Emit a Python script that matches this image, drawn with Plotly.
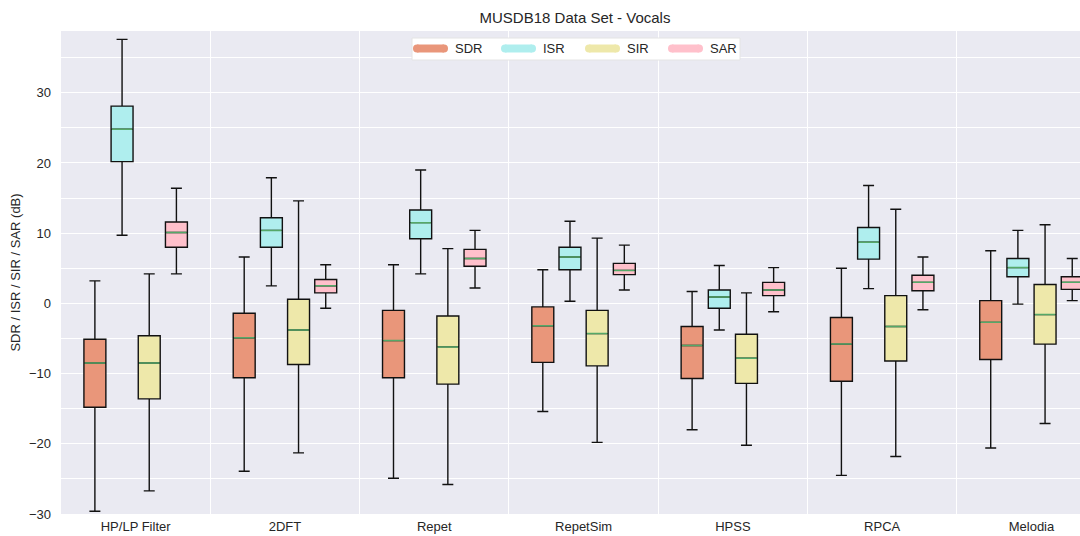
import plotly.graph_objects as go

methods = ["HP/LP Filter", "2DFT", "Repet", "RepetSim", "HPSS", "RPCA", "Melodia"]
metrics = ["SDR", "ISR", "SIR", "SAR"]
colors = {"SDR": "#E9967A", "ISR": "#AFEEEE", "SIR": "#EEE8AA", "SAR": "#FFC0CB"}

# per-metric box statistics, one value per method (dB)
sdr_low = [-29.6, -23.9, -24.9, -15.4, -18.0, -24.5, -20.6]
sdr_q1 = [-14.8, -10.6, -10.6, -8.4, -10.7, -11.1, -8.0]
sdr_med = [-8.5, -4.9, -5.3, -3.2, -6.0, -5.8, -2.7]
sdr_q3 = [-5.1, -1.4, -1.0, -0.5, -3.3, -2.0, 0.4]
sdr_high = [3.2, 6.6, 5.5, 4.8, 1.7, 5.0, 7.5]

isr_low = [9.7, 2.5, 4.2, 0.3, -3.8, 2.1, -0.1]
isr_q1 = [20.2, 8.0, 9.2, 4.8, -0.7, 6.3, 3.8]
isr_med = [24.8, 10.4, 11.5, 6.6, 0.9, 8.7, 5.1]
isr_q3 = [28.1, 12.2, 13.3, 8.0, 1.9, 10.8, 6.4]
isr_high = [37.6, 17.9, 19.0, 11.7, 5.4, 16.8, 10.4]

sir_low = [-26.7, -21.3, -25.8, -19.8, -20.2, -21.8, -17.1]
sir_q1 = [-13.6, -8.7, -11.5, -8.9, -11.4, -8.2, -5.8]
sir_med = [-8.5, -3.8, -6.2, -4.3, -7.8, -3.3, -1.6]
sir_q3 = [-4.6, 0.6, -1.8, -1.0, -4.4, 1.1, 2.7]
sir_high = [4.2, 14.6, 7.8, 9.3, 1.5, 13.4, 11.2]

sar_low = [4.2, -0.7, 2.2, 1.9, -1.2, -0.9, 0.4]
sar_q1 = [8.0, 1.5, 5.3, 4.1, 1.1, 1.8, 2.0]
sar_med = [10.1, 2.5, 6.4, 4.7, 1.9, 3.0, 3.0]
sar_q3 = [11.6, 3.4, 7.7, 5.7, 3.0, 4.0, 3.8]
sar_high = [16.4, 5.5, 10.4, 8.3, 5.1, 6.6, 6.4]

stats = {
    "SDR": (sdr_low, sdr_q1, sdr_med, sdr_q3, sdr_high),
    "ISR": (isr_low, isr_q1, isr_med, isr_q3, isr_high),
    "SIR": (sir_low, sir_q1, sir_med, sir_q3, sir_high),
    "SAR": (sar_low, sar_q1, sar_med, sar_q3, sar_high),
}

FONT = "Liberation Sans, Arial, sans-serif"
TXT = "#262626"
W, H = 1080, 536
ML, MR, MT, MB = 61, 0, 31, 22
PW, PH = W - ML - MR, H - MT - MB
offsets = [-0.273, -0.091, 0.091, 0.273]
box_w = 0.147


def px(x):
    return (x - ML) / PW


def py(y):
    return (H - MB - y) / PH


fig = go.Figure()
for k, m in enumerate(metrics):
    lo, q1, med, q3, hi = stats[m]
    xs = [i + offsets[k] for i in range(len(methods))]
    fig.add_trace(go.Box(
        x=xs, q1=q1, median=med, q3=q3, lowerfence=lo, upperfence=hi,
        orientation="v", width=box_w, whiskerwidth=0.5,
        fillcolor=colors[m], line=dict(color="#111111", width=1.4),
        boxpoints=False, showlegend=False, hoverinfo="skip",
    ))
    # green median line
    fig.add_trace(go.Box(
        x=xs, q1=med, median=med, q3=med, lowerfence=med, upperfence=med,
        orientation="v", width=box_w * 0.93, whiskerwidth=0,
        fillcolor="rgba(0,0,0,0)", line=dict(color="#55A868", width=1.5),
        boxpoints=False, showlegend=False, hoverinfo="skip",
    ))

# manual legend (matplotlib-style): white frame, thick line patches, labels
shapes = [dict(type="rect", xref="paper", yref="paper",
               x0=px(412), x1=px(740), y0=py(60), y1=py(38),
               fillcolor="white", line=dict(color="#E4E4E4", width=1), layer="above")]
annotations = []
legend_x = [414, 502, 586, 669]
for m, lx in zip(metrics, legend_x):
    shapes.append(dict(type="line", xref="paper", yref="paper",
                       x0=px(lx + 3), x1=px(lx + 30), y0=py(48.5), y1=py(48.5),
                       line=dict(color=colors[m], width=8), layer="above"))
    for cx in (lx + 3, lx + 30):
        shapes.append(dict(type="circle", xref="paper", yref="paper",
                           xsizemode="pixel", ysizemode="pixel",
                           xanchor=px(cx), yanchor=py(48.5),
                           x0=-4, x1=4, y0=-4, y1=4,
                           fillcolor=colors[m], line=dict(width=0), layer="above"))
    annotations.append(dict(text=m, xref="paper", yref="paper", x=px(lx + 39), y=py(48.5),
                            xanchor="left", yanchor="middle", showarrow=False,
                            font=dict(size=13, color=TXT, family=FONT)))

fig.update_layout(
    width=W, height=H,
    margin=dict(l=ML, r=MR, t=MT, b=MB),
    paper_bgcolor="white", plot_bgcolor="#EAEAF2",
    boxmode="overlay", showlegend=False,
    font=dict(family=FONT, size=13, color=TXT),
    title=dict(text="MUSDB18 Data Set - Vocals", x=575 / W, xref="container",
               xanchor="center", y=1 - 18 / H, yref="container", yanchor="middle",
               font=dict(size=15, color=TXT)),
    shapes=shapes, annotations=annotations,
)
fig.update_xaxes(
    range=[-0.5, 6.325], tickvals=list(range(len(methods))), ticktext=methods,
    showgrid=False, zeroline=False, showline=False, ticks="", ticklabelstandoff=3,
    minor=dict(tick0=0.5, dtick=1, showgrid=True, gridcolor="white", gridwidth=1.2, ticks=""),
    tickfont=dict(size=13, color=TXT), automargin=False,
)
fig.update_yaxes(
    range=[-30, 38.8], tickvals=[-30, -20, -10, 0, 10, 20, 30],
    showgrid=True, gridcolor="white", gridwidth=1.2, zeroline=False, showline=False,
    ticks="", ticklabelstandoff=9,
    minor=dict(tick0=0, dtick=5, showgrid=True, gridcolor="white", gridwidth=1.2, ticks=""),
    title=dict(text="SDR / ISR / SIR / SAR (dB)", standoff=5, font=dict(size=13, color=TXT)),
    tickfont=dict(size=13, color=TXT), automargin=False,
)

fig.write_html(
    "out.html",
    config={"displayModeBar": False},
    post_script="document.body.style.margin='0';document.body.style.overflow='hidden';",
)
